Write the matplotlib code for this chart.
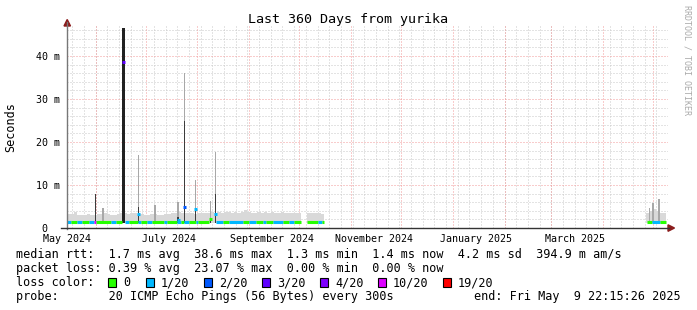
import matplotlib
matplotlib.use("Agg")
import matplotlib.pyplot as plt
import matplotlib.dates as mdates
from matplotlib.patches import Rectangle, Polygon
from matplotlib.lines import Line2D
from datetime import datetime, timedelta
import numpy as np

W, H = 697, 310
MONO = "DejaVu Sans Mono"

end = datetime(2025, 5, 9, 22, 15, 26)
span_days = 360

# smoke (spread of the 20 pings), top in ms, 2-day bins, per data section
smoke_start = [0, 144, 347]
smoke_top = [
    [3.3, 3.2, 3.7, 3.1, 3.0, 3.1, 3.2, 3.0, 3.1, 3.3,
     3.2, 3.4, 3.2, 3.0, 3.1, 3.3, 3.4, 3.5, 3.3, 3.4,
     3.5, 3.3, 3.2, 3.0, 3.1, 3.3, 3.2, 3.1, 3.0, 3.2,
     3.3, 3.4, 3.6, 3.8, 3.4, 3.6, 3.5, 3.4, 3.3, 3.5,
     3.6, 3.5, 3.6, 3.8, 3.6, 3.7, 3.6, 3.8, 3.7, 3.6,
     3.7, 3.6, 3.8, 4.3, 3.7, 3.6, 3.5, 3.7, 3.6, 3.8,
     3.6, 3.7, 3.5, 3.6, 3.7, 3.6, 3.5, 3.6, 3.5, 3.4],
    [3.4, 3.5, 3.5, 3.4, 3.3],
    [3.5, 4.0, 4.4, 4.0, 3.6, 3.4],
]
smoke_min = 1.2

# single-step spikes: day, smoke top, dark core top, median, loss
spike_day = [17.1, 21.6, 33.8, 42.8, 52.7, 66.5, 70.4, 77.0, 86.0, 89.0, 349.0, 351.0, 354.5]
spike_top = [7.9, 4.7, 46.5, 17.0, 5.3, 6.0, 36.0, 11.2, 6.2, 17.6, 4.6, 5.8, 6.7]
spike_core = [7.9, 0, 46.5, 5.0, 0, 2.5, 25.0, 4.5, 2.2, 8.0, 0, 0, 0]
spike_median = [None, None, 38.6, 3.3, None, 1.9, 4.9, 4.5, 2.0, 3.3, None, None, None]
spike_loss = [10, 0, 3, 1, 0, 1, 2, 1, 0, 1, 0, 0, 0]

# median rtt line, coloured by packet loss
median_ms = 1.5
loss_start = [0, 2.4, 6, 9, 13.2, 16.2, 17.6, 26.3, 29.3, 34.7, 37, 42.5, 44.3, 47.9,
              50.9, 58, 60, 66, 68.3, 70, 73, 77.2, 78.4, 89.2, 93.4, 97, 105.4, 109,
              113.2, 117.4, 119.2, 123.4, 129.3, 132.9, 135.9,
              143.7, 150.3, 152.7, 347.3, 350.3, 355.1]
loss_end = [2.4, 6, 9, 13.2, 16.2, 17.6, 26.3, 29.3, 33, 37, 42.5, 44.3, 47.9, 50.9,
            58, 60, 66, 68.3, 70, 73, 77.2, 78.4, 85, 93.4, 97, 105.4, 109, 113.2,
            117.4, 119.2, 123.4, 129.3, 132.9, 135.9, 140,
            150.3, 152.7, 153.9, 350.3, 355.1, 358.7]
loss_val = [1, 0, 1, 0, 1, 10, 0, 1, 0, 1, 0, 1, 0, 1,
            0, 1, 0, 1, 0, 1, 0, 1, 0, 1, 0, 1, 0, 1,
            0, 1, 0, 1, 0, 1, 0,
            0, 1, 0, 0, 1, 0]

loss_levels = [0, 1, 2, 3, 4, 10, 19]
loss_labels = ["0", "1/20", "2/20", "3/20", "4/20", "10/20", "19/20"]
loss_colors = ["#26ff00", "#00b8ff", "#0059ff", "#5e00ff", "#7e00ff", "#dd00ff", "#ff0000"]
loss_box_x = [108, 146, 204, 262, 320, 378, 443]

y_ticks = [0, 10, 20, 30, 40]
y_labels = ["0  ", "10 m", "20 m", "30 m", "40 m"]

legend_lines = [
    "median rtt:  1.7 ms avg  38.6 ms max  1.3 ms min  1.4 ms now  4.2 ms sd  394.9 m am/s",
    "packet loss: 0.39 % avg  23.07 % max  0.00 % min  0.00 % now",
    "loss color:",
    "probe:       20 ICMP Echo Pings (56 Bytes) every 300s",
]
end_text = "end: Fri May  9 22:15:26 2025"


def lcolor(v):
    return loss_colors[loss_levels.index(v)]


def fx(x):
    return x / W


def fy(y):
    return 1 - y / H


t0 = end - timedelta(days=span_days)
x0 = mdates.date2num(t0)

fig = plt.figure(figsize=(W / 100, H / 100), dpi=100)
fig.patch.set_facecolor("white")
ax = fig.add_axes([fx(67), fy(228), 601 / W, 202 / H])
ax.set_xlim(x0, x0 + span_days)
ax.set_ylim(0, 47)
for s in ax.spines.values():
    s.set_visible(False)

# grid
grid_kw = dict(lw=0.72, dashes=(1, 2), zorder=0)
d = datetime(2024, 5, 18)
while d < end:
    ax.axvline(mdates.date2num(d), color="#c8c8c8", **grid_kw)
    d += timedelta(days=7)
for v in range(2, 47, 2):
    if v % 10:
        ax.axhline(v, color="#c8c8c8", **grid_kw)
for yr, mo in [(2024, m) for m in range(6, 13)] + [(2025, m) for m in range(1, 6)]:
    ax.axvline(mdates.date2num(datetime(yr, mo, 1)), color="#f29a9a", **grid_kw)
for v in (10, 20, 30, 40):
    ax.axhline(v, color="#f29a9a", **grid_kw)

# smoke
for s0, tops in zip(smoke_start, smoke_top):
    xs = x0 + s0 + 2 * np.arange(len(tops) + 1)
    ys = list(tops) + [tops[-1]]
    ax.fill_between(xs, smoke_min, ys, step="post", color="#d9d9d9", lw=0, zorder=1)

# spikes
for dd, top, core, med, loss in zip(spike_day, spike_top, spike_core, spike_median, spike_loss):
    w = 1.4 if top > 40 else 1.0
    ax.bar(x0 + dd, top - smoke_min, bottom=smoke_min, width=w, color="#a8a8a8", lw=0, zorder=2)
    if core > 0:
        ax.bar(x0 + dd, core - smoke_min, bottom=smoke_min, width=w,
               color="#222222" if core > 40 else "#3c3c3c", lw=0, zorder=3)
    if med is not None:
        ax.hlines(med, x0 + dd - 0.9, x0 + dd + 0.9, colors=lcolor(loss), lw=2.2,
                  capstyle="butt", zorder=4)

# median line
ax.hlines([median_ms] * len(loss_start), [x0 + v for v in loss_start], [x0 + v for v in loss_end],
          colors=[lcolor(v) for v in loss_val], lw=2.2, capstyle="butt", zorder=4)

# ticks
ax.set_yticks(y_ticks)
ax.set_yticklabels(y_labels, fontsize=7.2, family=MONO)
lab_dates = [datetime(2024, 5, 15), datetime(2024, 7, 15), datetime(2024, 9, 15),
             datetime(2024, 11, 15), datetime(2025, 1, 15), datetime(2025, 3, 15)]
ax.set_xticks([mdates.date2num(v) for v in lab_dates])
ax.set_xticklabels([v.strftime("%B %Y") for v in lab_dates], fontsize=7.2, family=MONO)
ax.tick_params(axis="y", length=0, pad=5)
ax.tick_params(axis="x", length=0, pad=4)

# axes lines and arrows
fig.add_artist(Line2D([fx(67), fx(67)], [fy(229), fy(22)], color="#777777", lw=1))
fig.add_artist(Line2D([fx(61), fx(669)], [fy(228), fy(228)], color="#333333", lw=1))
fig.add_artist(Polygon([[fx(64), fy(26)], [fx(70.5), fy(26)], [fx(67.2), fy(19.5)]],
                       closed=True, color="#8b1c1c", transform=fig.transFigure))
fig.add_artist(Polygon([[fx(668), fy(224.8)], [fx(668), fy(231.3)], [fx(674.5), fy(228)]],
                       closed=True, color="#8b1c1c", transform=fig.transFigure))

# texts
fig.text(fx(348), fy(19.5), "Last 360 Days from yurika", ha="center", va="center",
         fontsize=9.6, family=MONO)
fig.text(fx(11), fy(127), "Seconds", rotation=90, ha="center", va="center",
         fontsize=8.5, family=MONO)
fig.text(fx(687), fy(60), "RRDTOOL / TOBI OETIKER", rotation=270, ha="center", va="center",
         fontsize=6.0, family=MONO, color="#aaaaaa")

for i, line in enumerate(legend_lines):
    fig.text(fx(16), fy(254.5 + 14 * i), line, ha="left", va="center", fontsize=8.5, family=MONO)
fig.text(fx(681), fy(296.5), end_text, ha="right", va="center", fontsize=8.5, family=MONO)

for bx, lab, col in zip(loss_box_x, loss_labels, loss_colors):
    fig.add_artist(Rectangle((fx(bx), fy(286.5)), 8 / W, 9 / H, transform=fig.transFigure,
                             facecolor=col, edgecolor="black", lw=0.8))
    fig.text(fx(bx + 15), fy(282.5), lab, ha="left", va="center", fontsize=8.5, family=MONO)

fig.savefig("out.png", dpi=100)
